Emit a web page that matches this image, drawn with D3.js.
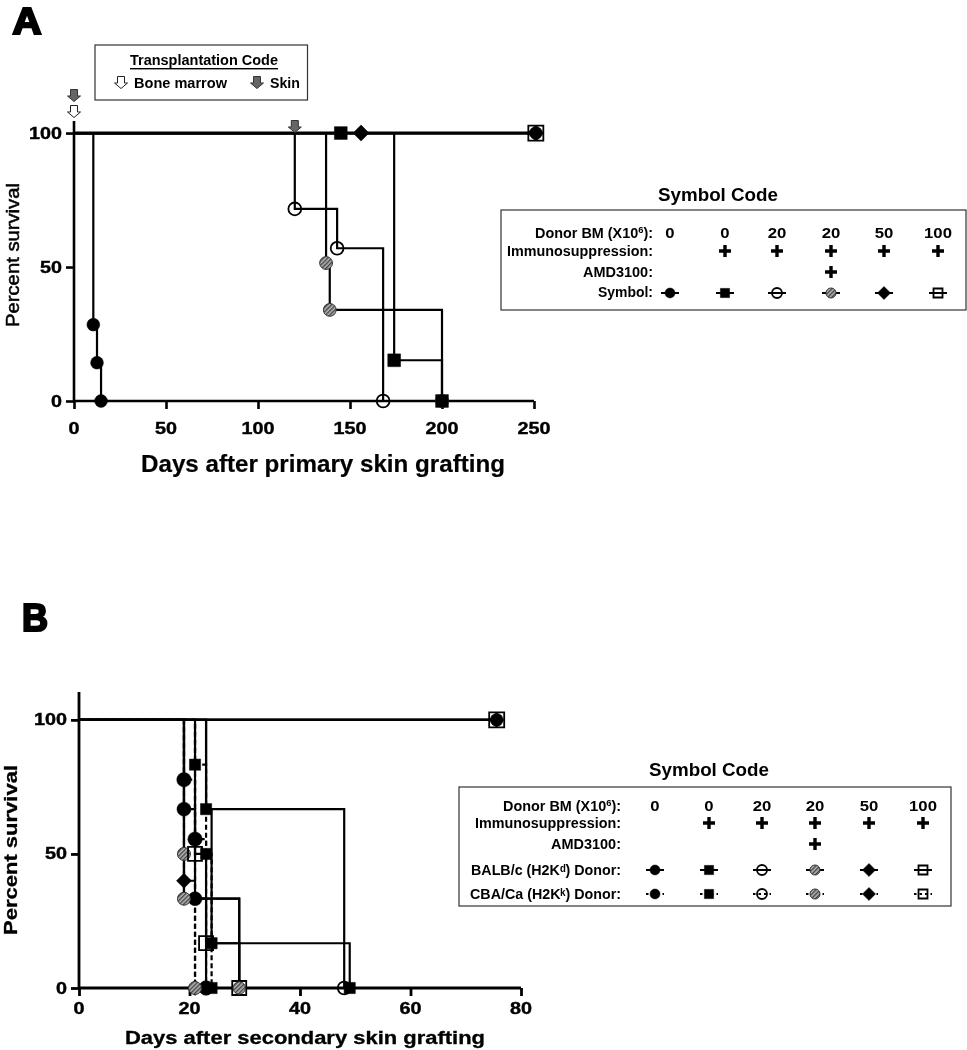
<!DOCTYPE html>
<html><head><meta charset="utf-8">
<script src="https://cdn.jsdelivr.net/npm/d3@7"></script>
<style>html,body{margin:0;padding:0;background:#fff}svg{display:block;filter:blur(0.35px)}text{font-family:"Liberation Sans",Arial,sans-serif;font-weight:700;fill:#000}</style>
</head><body><svg id="c" width="967" height="1050"></svg>
<script>
// ---- data: panel A
const xTicksA=[0,50,100,150,200,250], yTicks=[0,50,100], xTicksB=[0,20,40,60,80];
const stepsACircle=[[10.5,28.5],[12.5,14.3],[14.7,0]];
const stepsASquare=[[174,15.2],[200,0]];
const stepsAOpen=[[120,71.7],[143,57],[168,0]];
const stepsAHatch=[[137,51.5],[139,34],[200,0]];
const stepsAFlat=[[251,100]];
const marksASquare=[[145,100],[174,15.2],[200,0]];
const marksADiamond=[[156,100],[251,100]];
const marksAEnd=[[251,100]];
const arrowDaysSkinA=[0,120], arrowDaysMarrowA=[0];
// ---- data: panel B
const stepsBCircle=[[19,66.7],[21,33.3],[23,0]];
const stepsBCircleD=[[19,77.7],[21,55.5],[23,0]];
const stepsBOpen=[[23,66.7],[48,0]];
const stepsBSquare=[[23,66.7],[24,16.7],[49,0]];
const stepsBSquareD=[[21,83.3],[23,50],[24,0]];
const stepsBHatch=[[19,50],[19,33.3],[29,0]];
const stepsBHatchD=[[21,0]];
const stepsBOpenSq=[[21,50],[23,16.7],[29,0]];
const stepsBDiamondD=[[19,40],[21,0]];
const stepsBFlat=[[75.6,100]];
const marksBEnd=[[75.6,100]];
// ---- legend text
const donorCols=["0","0","20","20","50","100"];
const immuno=[0,1,1,1,1,1], amd=[0,0,0,1,0,0];
const symbols=["circle","square","open","hatch","diamond","openSquare"];

const svg=d3.select("#c"), defs=svg.append("defs");
const pat=defs.append("pattern").attr("id","hatch").attr("width",3).attr("height",3)
 .attr("patternUnits","userSpaceOnUse").attr("patternTransform","rotate(45)");
pat.append("rect").attr("width",3).attr("height",3).attr("fill","#b5b5b5");
pat.append("rect").attr("width",1.4).attr("height",3).attr("fill","#444");

function txt(x,y,s,size,o={}){
 const t=svg.append("text").attr("x",x).attr("y",y).attr("font-size",size)
  .attr("text-anchor",o.anchor||"middle").attr("dominant-baseline","central");
 if(o.len){t.attr("textLength",o.len).attr("lengthAdjust","spacingAndGlyphs");}
 if(o.rot)t.attr("transform",`rotate(-90 ${x} ${y})`);
 if(o.weight)t.style("font-weight",o.weight);
 if(o.stroke)t.attr("stroke","#000").attr("stroke-width",o.stroke);
 t.text(s);return t;
}
const gen={circle:d3.symbol(d3.symbolCircle),square:d3.symbol(d3.symbolSquare),diamond:d3.symbol(d3.symbolSquare)};
function mark(g,x,y,kind,r){
 const base=(kind==="square"||kind==="openSquare")?"square":(kind==="diamond"?"diamond":"circle");
 const size=base==="circle"?Math.PI*r*r:(base==="square"?4*r*r:2*r*r);
 const p=g.append("path").attr("d",gen[base].size(size)())
  .attr("transform",`translate(${x},${y})${base==="diamond"?" rotate(45)":""}`);
 const fill={circle:"#000",square:"#000",diamond:"#000",open:"none",openSquare:"none",hatch:"url(#hatch)"}[kind];
 p.attr("fill",fill).attr("stroke",kind==="hatch"?"#333":"#000").attr("stroke-width",kind==="open"||kind==="openSquare"?1.8:(kind==="hatch"?1:.5));
}
function panel(o){
 const x=d3.scaleLinear().domain(o.xd).range(o.xr), y=d3.scaleLinear().domain(o.yd).range(o.yr);
 const g=svg.append("g");
 const ax=g.append("g").attr("transform",`translate(0,${y(0)})`).call(d3.axisBottom(x).tickValues(o.xt).tickSize(8).tickFormat(""));
 const ay=g.append("g").attr("transform",`translate(${x(0)},0)`).call(d3.axisLeft(y).tickValues(yTicks).tickSize(8).tickFormat(""));
 [ax,ay].forEach(a=>{a.selectAll("path,line").attr("stroke","#000").attr("stroke-width",o.axisW);a.select(".domain").attr("d",null);});
 ax.append("line").attr("x1",x.range()[0]).attr("x2",x.range()[1]).attr("stroke","#000").attr("stroke-width",o.axisW);
 ay.append("line").attr("y1",y.range()[0]).attr("y2",y.range()[1]).attr("stroke","#000").attr("stroke-width",o.axisW);
 o.xt.forEach(v=>txt(x(v),y(0)+o.xLab,String(v),o.tickSize,{len:String(v).length*o.digitW,stroke:.4}));
 yTicks.forEach(v=>txt(x(0)-12,y(v),String(v),o.tickSize,{anchor:"end",len:String(v).length*o.digitW,stroke:.4}));
 const line=d3.line().x(d=>x(d[0])).y(d=>y(d[1])).curve(d3.curveStepAfter);
 o.series.forEach(s=>{
  g.append("path").attr("d",line([[0,100],...s.steps])).attr("fill","none").attr("stroke","#000")
   .attr("stroke-width",s.w||2.2).attr("stroke-dasharray",s.dash?"5 3":null);
 });
 o.series.forEach(s=>(s.marks||[]).forEach(m=>mark(g,x(m[0]),y(m[1]),s.kind,s.r||o.r)));
 return {x,y};
}
const A=panel({xd:[0,250],xr:[74,534],yd:[0,104.5],yr:[401,121],xt:xTicksA,axisW:2.6,xLab:27,tickSize:17,digitW:11,r:6.4,
 series:[
 {steps:stepsAFlat,w:3},
 {steps:stepsACircle,kind:"circle",marks:stepsACircle},
 {steps:stepsAOpen,kind:"open",marks:stepsAOpen},
 {steps:stepsAHatch,kind:"hatch",marks:stepsAHatch},
 {steps:stepsAFlat,kind:"openSquare",marks:marksAEnd,r:7.5},
 {steps:stepsAFlat,kind:"circle",marks:marksAEnd},
 {steps:stepsASquare,kind:"square",marks:marksASquare},
 {steps:stepsAFlat,kind:"diamond",marks:marksADiamond,r:8},
 ]});
const B=panel({xd:[0,80],xr:[79,521],yd:[0,110.4],yr:[988,692],xt:xTicksB,axisW:2.8,xLab:20,tickSize:16,digitW:11,r:6.4,
 series:[
 {steps:stepsBFlat},
 {steps:stepsBDiamondD,kind:"diamond",dash:1,marks:stepsBDiamondD,r:7.5},
 {steps:stepsBCircle,kind:"circle",marks:stepsBCircle,r:7},
 {steps:stepsBCircleD,kind:"circle",dash:1,marks:stepsBCircleD,r:7.2},
 {steps:stepsBOpen,kind:"open",marks:[stepsBOpen[1]]},
 {steps:stepsBHatchD,kind:"hatch",dash:1,marks:stepsBHatchD,r:6.5},
 {steps:stepsBHatch,kind:"hatch",marks:stepsBHatch.slice(0,2),r:6.5},
 {steps:stepsBOpenSq,kind:"openSquare",marks:stepsBOpenSq,r:7},
 {steps:stepsBSquare,kind:"square",marks:stepsBSquare,r:5.6},
 {steps:stepsBSquareD,kind:"square",dash:1,marks:stepsBSquareD,r:5.6},
 {steps:stepsBHatch,kind:"hatch",marks:[stepsBHatch[2]],r:6.2},
 {steps:stepsBFlat,kind:"openSquare",marks:marksBEnd,r:7.5},
 {steps:stepsBFlat,kind:"circle",marks:marksBEnd},
 {steps:stepsBFlat,kind:"diamond",marks:marksBEnd,r:7.5},
 ]});

// titles
txt(27,21,"A",36,{stroke:2.2,len:29});
txt(35,618,"B",38,{stroke:2.2,len:26});
txt(323,463,"Days after primary skin grafting",24,{len:364,stroke:.2});
txt(12,255,"Percent survival",19,{rot:1,len:144,weight:400,stroke:.5});
txt(305,1038,"Days after secondary skin grafting",18,{len:360,stroke:.3});
txt(10,850,"Percent survival",19,{rot:1,len:170,stroke:.3});

// block arrows
function arrow(cx,cy,dark){
 const p=d3.path(),w=3.5,h=5.5,b=1;
 p.moveTo(cx-w,cy-h);p.lineTo(cx+w,cy-h);p.lineTo(cx+w,cy+b);p.lineTo(cx+w+3,cy+b);
 p.lineTo(cx,cy+h+1);p.lineTo(cx-w-3,cy+b);p.lineTo(cx-w,cy+b);p.closePath();
 svg.append("path").attr("d",p).attr("fill",dark?"#666":"#fff").attr("stroke",dark?"#333":"#222").attr("stroke-width",1);
}
arrowDaysSkinA.forEach((d,i)=>arrow(A.x(d),i?126:95,true));
arrowDaysMarrowA.forEach(d=>arrow(A.x(d),111,false));

// transplantation box
function box(x0,y0,x1,y1){svg.append("rect").attr("x",x0).attr("y",y0).attr("width",x1-x0).attr("height",y1-y0).attr("fill","#fff").attr("stroke","#333").attr("stroke-width",1.2);}
box(95,45,307.5,100);
txt(204,60,"Transplantation Code",14,{len:148}).attr("text-decoration","underline");
arrow(121,82,false);txt(134,82,"Bone marrow",15,{anchor:"start",len:93});
arrow(257,82,true);txt(270,82,"Skin",15,{anchor:"start",len:30});

// symbol legends
function legend(o){
 box(...o.box);
 txt(o.titleX,o.titleY,"Symbol Code",o.titleSize,{len:o.titleLen});
 const label=(y,s,len)=>txt(o.right,y,s,o.fs,{anchor:"end",len});
 const d=svg.append("text").attr("x",o.right).attr("y",o.rows[0]).attr("font-size",o.fs).attr("text-anchor","end").attr("dominant-baseline","central")
  .attr("textLength",o.donLen).attr("lengthAdjust","spacingAndGlyphs");
 d.append("tspan").text("Donor BM (X10");d.append("tspan").attr("dy",-3).attr("font-size",o.fs*.65).text("6");d.append("tspan").attr("dy",3).text("):");
 label(o.rows[1],"Immunosuppression:",o.imLen);
 label(o.rows[2],"AMD3100:",o.amLen);
 const plus=(x,y)=>{const p=d3.path();p.moveTo(x-6,y);p.lineTo(x+6,y);p.moveTo(x,y-6);p.lineTo(x,y+6);svg.append("path").attr("d",p).attr("stroke","#000").attr("stroke-width",3.4);};
 o.cols.forEach((cx,i)=>{
  txt(cx,o.rows[0],donorCols[i],o.fs,{len:donorCols[i].length*9.3});
  if(immuno[i])plus(cx,o.rows[1]);
  if(amd[i])plus(cx,o.rows[2]);
  o.symRows.forEach(r=>{
   svg.append("line").attr("x1",cx-9).attr("x2",cx+9).attr("y1",r.y).attr("y2",r.y).attr("stroke","#000").attr("stroke-width",2).attr("stroke-dasharray",r.dash?"2.5 3":null);
   mark(svg,cx,r.y,symbols[i],i==4?6.5:(i==5?4.5:(i==1?4.6:5)));
  });
 });
 o.symLabels.forEach(l=>label(l.y,l.s,l.len));
}
legend({box:[501,210,966,310],titleX:718,titleY:195,titleSize:18,titleLen:120,right:653,fs:14,donLen:118,imLen:146,amLen:70,
 rows:[233,251,272],cols:[670,725,777,831,884,938],symRows:[{y:293}],symLabels:[{y:292,s:"Symbol:",len:55}]});
legend({box:[459,787,951,906],titleX:709,titleY:770,titleSize:18,titleLen:120,right:621,fs:14,donLen:118,imLen:146,amLen:70,
 rows:[806,823,844],cols:[655,709,762,815,869,923],symRows:[{y:870},{y:894,dash:1}],
 symLabels:[{y:870,s:"BALB/c (H2Kᵈ) Donor:",len:150},{y:894,s:"CBA/Ca (H2Kᵏ) Donor:",len:151}]});
</script></body></html>
